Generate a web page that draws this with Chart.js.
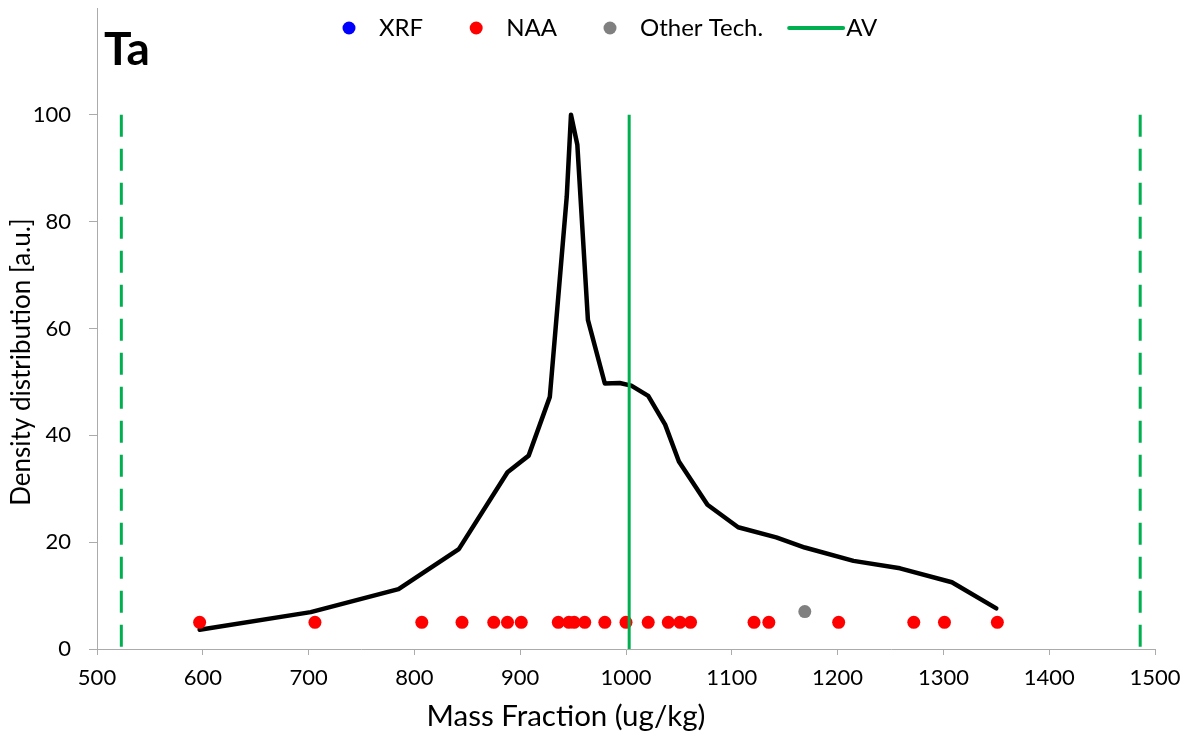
<!DOCTYPE html>
<html>
<head>
<meta charset="utf-8">
<script src="https://cdn.jsdelivr.net/npm/chart.js@4.4.1/dist/chart.umd.min.js"></script>
<style>
  html, body { margin: 0; padding: 0; background: #fff; }
  #wrap { width: 1194px; height: 736px; }
</style>
</head>
<body>
<div id="wrap"><canvas id="chart"></canvas></div>
<script>
const elementName = 'Ta';

// reported mass fractions (ug/kg) by technique
const xrfValues = [];
const naaValues = [597, 706, 807, 845, 875, 888, 901, 936, 946, 951, 961, 980, 1000,
                   1021, 1040, 1051, 1061, 1121, 1135, 1201, 1272, 1301, 1351];
const otherValues = [1169];
const xrfLevel = 5;
const naaLevel = 5;
const otherLevel = 7;

// density curve
const densityX = [597, 702, 785, 842, 888, 908, 928, 944, 948, 954, 964, 980, 994,
                  1005, 1021, 1037, 1050, 1077, 1106, 1142, 1169, 1215, 1259, 1308, 1350];
const densityY = [3.6, 6.9, 11.2, 18.7, 33.1, 36.2, 47.2, 84.7, 100, 94.4, 61.6, 49.7, 49.8,
                  49.3, 47.4, 42.0, 35.1, 27.0, 22.8, 20.9, 19.0, 16.5, 15.1, 12.5, 7.6];

// assigned value and limits
const assignedValue = 1003;
const lowerLimit = 523;
const upperLimit = 1486;
const limitHeight = 100;

const xMin = 500, xMax = 1500, xStep = 100;
const yMin = 0, yMax = 120, yStep = 20, yLabelMax = 100;

const FONT = "Lato, 'Open Sans', sans-serif";
const AXIS_COLOR = '#ababab';
const GREEN = '#00b050';

const at = (values, level) => values.map(v => ({ x: v, y: level }));
const vline = (x) => [{ x: x, y: limitHeight }, { x: x, y: 0 }];

const legendItems = [
  { label: 'XRF', color: '#0000ff', kind: 'dot' },
  { label: 'NAA', color: '#ff0000', kind: 'dot' },
  { label: 'Other Tech.', color: '#808080', kind: 'dot' },
  { label: 'AV', color: GREEN, kind: 'line' }
];

// title, legend row and axis titles
const decorations = {
  id: 'decorations',
  afterDraw(chart) {
    const ctx = chart.ctx;
    ctx.save();
    ctx.fillStyle = '#000';

    ctx.font = 'bold 46px ' + FONT;
    ctx.textAlign = 'left';
    ctx.textBaseline = 'alphabetic';
    ctx.fillText(elementName, 104, 65);

    ctx.font = '24px ' + FONT;
    ctx.textBaseline = 'middle';
    let x = 349;
    const y = 28;
    legendItems.forEach(item => {
      if (item.kind === 'dot') {
        ctx.fillStyle = item.color;
        ctx.beginPath();
        ctx.arc(x, y, 6.5, 0, Math.PI * 2);
        ctx.fill();
        x += 30;
      } else {
        ctx.strokeStyle = item.color;
        ctx.lineWidth = 4;
        ctx.lineCap = 'round';
        ctx.beginPath();
        ctx.moveTo(x, y);
        ctx.lineTo(x + 54, y);
        ctx.stroke();
        x += 57;
      }
      ctx.fillStyle = '#000';
      ctx.fillText(item.label, x, y);
      x += ctx.measureText(item.label).width + (item.label === 'Other Tech.' ? 26 : 53);
    });

    ctx.font = '29.5px ' + FONT;
    ctx.textAlign = 'center';
    ctx.fillText('Mass Fraction (ug/kg)', 566, 716);

    ctx.font = '26px ' + FONT;
    ctx.translate(22, 362);
    ctx.rotate(-Math.PI / 2);
    ctx.fillText('Density distribution [a.u.]', 0, 0);
    ctx.restore();
  }
};

new Chart(document.getElementById('chart'), {
  type: 'scatter',
  data: {
    datasets: [
      {
        label: 'AV',
        data: vline(assignedValue),
        showLine: true,
        borderColor: GREEN,
        borderWidth: 3,
        pointRadius: 0
      },
      {
        label: 'XRF',
        data: at(xrfValues, xrfLevel),
        backgroundColor: '#0000ff',
        borderWidth: 0,
        pointRadius: 6.5
      },
      {
        label: 'NAA',
        data: at(naaValues, naaLevel),
        backgroundColor: '#ff0000',
        borderWidth: 0,
        pointRadius: 6.5
      },
      {
        label: 'Other Tech.',
        data: at(otherValues, otherLevel),
        backgroundColor: '#808080',
        borderWidth: 0,
        pointRadius: 6.5
      },
      {
        label: 'Density',
        data: densityX.map((x, i) => ({ x: x, y: densityY[i] })),
        showLine: true,
        borderColor: '#000',
        borderWidth: 4.5,
        borderJoinStyle: 'round',
        borderCapStyle: 'round',
        pointRadius: 0
      },
      {
        label: 'Lower limit',
        data: vline(lowerLimit),
        showLine: true,
        borderColor: GREEN,
        borderWidth: 3,
        borderDash: [22, 12],
        pointRadius: 0
      },
      {
        label: 'Upper limit',
        data: vline(upperLimit),
        showLine: true,
        borderColor: GREEN,
        borderWidth: 3,
        borderDash: [22, 12],
        pointRadius: 0
      }
    ]
  },
  options: {
    responsive: true,
    maintainAspectRatio: false,
    animation: false,
    layout: { padding: { left: 0, right: 39, top: 8, bottom: 0 } },
    plugins: {
      legend: { display: false },
      tooltip: { enabled: false }
    },
    scales: {
      x: {
        type: 'linear',
        min: xMin,
        max: xMax,
        ticks: {
          stepSize: xStep,
          color: '#000',
          padding: 10,
          maxRotation: 0,
          font: { family: FONT, size: 22 },
          callback: (v) => String(v)
        },
        grid: {
          drawOnChartArea: false,
          drawTicks: true,
          tickLength: 6,
          color: AXIS_COLOR
        },
        border: { display: true, color: AXIS_COLOR, width: 1 },
        afterFit(scale) {
          scale.height = 87;
          scale.paddingLeft = 0;
          scale.paddingRight = 0;
        }
      },
      y: {
        type: 'linear',
        min: yMin,
        max: yMax,
        afterBuildTicks(scale) {
          scale.ticks = scale.ticks.filter(t => t.value <= yLabelMax);
        },
        ticks: {
          stepSize: yStep,
          color: '#000',
          padding: 18,
          font: { family: FONT, size: 22 }
        },
        grid: {
          drawOnChartArea: false,
          drawTicks: true,
          tickLength: 8,
          color: AXIS_COLOR
        },
        border: { display: true, color: AXIS_COLOR, width: 1 },
        afterFit(scale) {
          scale.width = 97;
          scale.paddingTop = 0;
          scale.paddingBottom = 0;
        }
      }
    }
  },
  plugins: [decorations]
});
</script>
</body>
</html>
